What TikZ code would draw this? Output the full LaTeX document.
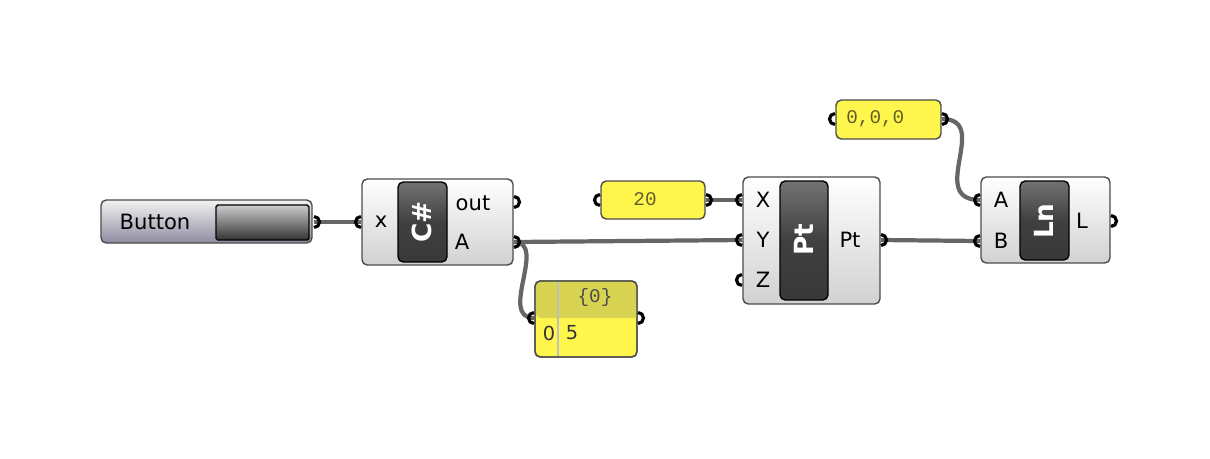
\documentclass[tikz,border=0pt]{standalone}
\usepackage{fontspec}
\setmainfont{DejaVu Sans}
\newfontfamily\panelfont{Liberation Mono}
\definecolor{hdr}{HTML}{D8D452}
\definecolor{btnlo}{HTML}{8E8CA0}
\tikzset{
  comp/.style={draw=black!70, line width=0.8pt, rounded corners=3pt, top color=white, bottom color=black!18},
  core/.style={draw=black, line width=0.8pt, rounded corners=3pt, top color=black!55, bottom color=black!78, middle color=black!75},
  panel/.style={draw=black!70, line width=0.8pt, rounded corners=3pt, fill=yellow!70},
  wire/.style={line width=2.4pt, draw=black!60},
  port/.style={line width=1.8pt, draw=black},
  lbl/.style={font=\fontsize{12}{14}\selectfont, inner sep=0pt},
  ptxt/.style={font=\panelfont\fontsize{11}{13}\selectfont, text=olive!60!black, inner sep=0pt},
  ctxt/.style={font=\bfseries\fontsize{15}{17}\selectfont, text=white, rotate=90, inner sep=0pt}
}
\newcommand{\inport}[1]{\draw[port] ([yshift=0.11cm]#1) arc[start angle=90, end angle=270, radius=0.11cm];}
\newcommand{\outport}[1]{\draw[port] ([yshift=0.11cm]#1) arc[start angle=90, end angle=-90, radius=0.11cm];}
\begin{document}
\begin{tikzpicture}[x=0.02cm, y=-0.02cm]
\useasboundingbox[fill=white] (0,0) rectangle (1210,458);
% ports
\coordinate (btn-out) at (314,222);
\coordinate (cs-x) at (361,222);
\coordinate (cs-out) at (514,202);
\coordinate (cs-a) at (514,242);
\coordinate (n20-in) at (600,200);
\coordinate (n20-out) at (706,200);
\coordinate (pt-x) at (742,200);
\coordinate (pt-y) at (742,240);
\coordinate (pt-z) at (742,280);
\coordinate (pt-out) at (881,240);
\coordinate (org-in) at (835,119);
\coordinate (org-out) at (942,119);
\coordinate (ln-a) at (980,200);
\coordinate (ln-b) at (980,241);
\coordinate (ln-out) at (1111,221);
\coordinate (lst-in) at (534,318);
\coordinate (lst-out) at (638,318);
% wires
\draw[wire] (btn-out) -- (cs-x);
\draw[wire] (cs-a) -- (pt-y);
\draw[wire] (cs-a) .. controls (548,242) and (498,318) .. (lst-in);
\draw[wire] (n20-out) -- (pt-x);
\draw[wire] (pt-out) -- (ln-b);
\draw[wire] (org-out) .. controls (992,119) and (926,200) .. (ln-a);
% button
\draw[comp, top color=black!5, bottom color=btnlo] (101,200) rectangle (312,243);
\node[lbl] (btn) at (155,222) {Button};
\draw[core, rounded corners=1pt, top color=black!20, bottom color=black!80] (216,205) rectangle (309,240);
% C# script
\draw[comp] (362,179) rectangle (513,265);
\draw[core] (398,182) rectangle (447,262);
\node[ctxt] (cs) at (422,222) {C\#};
\node[lbl] (csx) at (381,222) {x};
\node[lbl] (csout) at (473,203) {out};
\node[lbl] (csa) at (462,242) {A};
% number panel
\draw[panel] (601,181) rectangle (705,219);
\node[ptxt] (n20) at (645,199) {20};
% construct point
\draw[comp] (743,177) rectangle (880,304);
\draw[core] (780,181) rectangle (828,300);
\node[ctxt] (pt) at (804,240) {Pt};
\node[lbl] (ptx) at (763,200) {X};
\node[lbl] (pty) at (763,240) {Y};
\node[lbl] (ptz) at (763,280) {Z};
\node[lbl] (ptout) at (850,240) {Pt};
% origin panel
\draw[panel] (836,100) rectangle (941,139);
\node[ptxt, anchor=west] (org) at (846,119) {0,0,0};
% line
\draw[comp] (981,177) rectangle (1110,263);
\draw[core] (1020,181) rectangle (1069,260);
\node[ctxt] (ln) at (1044,221) {Ln};
\node[lbl] (lna) at (1001,200) {A};
\node[lbl] (lnb) at (1001,241) {B};
\node[lbl] (lnl) at (1082,221) {L};
% list panel
\draw[panel] (535,281) rectangle (637,357);
\fill[hdr, rounded corners=3pt] (535.5,281.5) -- (535.5,318) [sharp corners] -- (636.5,318) [rounded corners=3pt] -- (636.5,281.5) -- cycle;
\draw[panel, fill=none] (535,281) rectangle (637,357);
\draw[black!25, line width=0.6pt] (558,282) -- (558,356);
\node[ptxt, text=black!70] (lsth) at (595,297) {\{0\}};
\node[ptxt, text=black!80, font=\fontsize{11}{13}\selectfont] (lst0) at (549,333) {0};
\node[ptxt, text=black!80, font=\fontsize{11}{13}\selectfont] (lst5) at (572,333) {5};
% port arcs
\outport{btn-out}
\inport{cs-x}
\outport{cs-out}
\outport{cs-a}
\inport{n20-in}
\outport{n20-out}
\inport{pt-x}
\inport{pt-y}
\inport{pt-z}
\outport{pt-out}
\inport{org-in}
\outport{org-out}
\inport{ln-a}
\inport{ln-b}
\outport{ln-out}
\inport{lst-in}
\outport{lst-out}
\end{tikzpicture}
\end{document}
